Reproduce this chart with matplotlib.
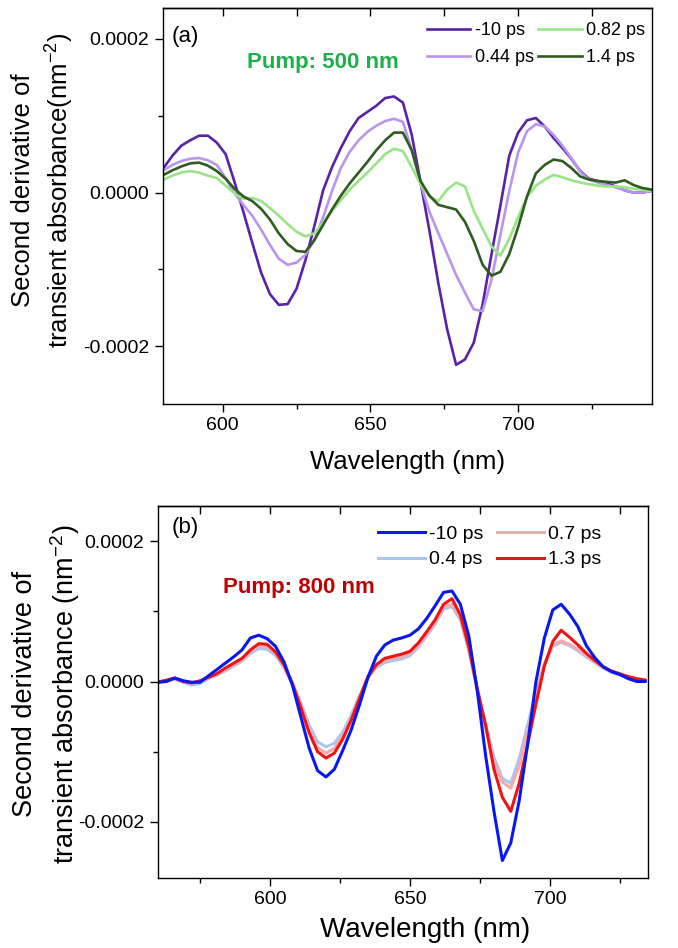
import numpy as np
import matplotlib
matplotlib.use("Agg")
import matplotlib.pyplot as plt
from matplotlib.ticker import MultipleLocator, FuncFormatter

plt.rcParams['font.family'] = ['Liberation Sans', 'DejaVu Sans']
plt.rcParams['axes.unicode_minus'] = False
plt.rcParams['mathtext.fontset'] = 'custom'
plt.rcParams['mathtext.rm'] = 'Liberation Sans'
plt.rcParams['mathtext.it'] = 'Liberation Sans'

# ---- panel (a): pump 500 nm, values in 1e-4 nm^-2 ----
wl_a = list(range(580, 746, 3))
a_m10 = [0.32, 0.48, 0.61, 0.68, 0.74, 0.74, 0.65, 0.50, 0.14, -0.25,
         -0.65, -1.04, -1.32, -1.46, -1.45, -1.25, -0.88, -0.44, 0.03, 0.33,
         0.58, 0.80, 0.97, 1.05, 1.13, 1.23, 1.25, 1.17, 0.75, 0.13,
         -0.50, -1.18, -1.78, -2.24, -2.17, -1.95, -1.45, -0.80, -0.17, 0.48,
         0.78, 0.94, 0.97, 0.86, 0.71, 0.58, 0.44, 0.28, 0.18, 0.15,
         0.12, 0.08, 0.03, 0.00, 0.00, 0.02]
a_044 = [0.29, 0.36, 0.41, 0.44, 0.45, 0.42, 0.36, 0.19, -0.01, -0.16,
         -0.30, -0.48, -0.68, -0.86, -0.94, -0.91, -0.81, -0.62, -0.32, 0.02,
         0.32, 0.53, 0.68, 0.79, 0.87, 0.93, 0.96, 0.92, 0.55, 0.11,
         -0.25, -0.53, -0.80, -1.07, -1.30, -1.52, -1.54, -1.13, -0.55, 0.02,
         0.52, 0.80, 0.89, 0.86, 0.75, 0.61, 0.45, 0.27, 0.17, 0.13,
         0.10, 0.07, 0.03, 0.00, 0.00, 0.02]
a_082 = [0.17, 0.22, 0.26, 0.28, 0.26, 0.22, 0.19, 0.09, -0.01, -0.08,
         -0.07, -0.11, -0.20, -0.30, -0.41, -0.51, -0.57, -0.53, -0.39, -0.24,
         -0.10, 0.04, 0.15, 0.26, 0.38, 0.50, 0.57, 0.54, 0.33, 0.11,
         -0.05, -0.11, 0.04, 0.13, 0.08, -0.24, -0.47, -0.70, -0.82, -0.60,
         -0.32, -0.06, 0.09, 0.17, 0.23, 0.20, 0.16, 0.13, 0.11, 0.09,
         0.08, 0.08, 0.07, 0.05, 0.04, 0.02]
a_14 = [0.23, 0.29, 0.34, 0.38, 0.39, 0.35, 0.28, 0.18, 0.05, -0.05,
        -0.11, -0.21, -0.35, -0.53, -0.67, -0.76, -0.77, -0.62, -0.42, -0.22,
        -0.04, 0.12, 0.26, 0.40, 0.55, 0.68, 0.78, 0.78, 0.55, 0.15,
        -0.04, -0.16, -0.19, -0.22, -0.38, -0.63, -0.94, -1.08, -1.03, -0.80,
        -0.45, -0.05, 0.25, 0.36, 0.43, 0.41, 0.32, 0.21, 0.17, 0.15,
        0.14, 0.13, 0.16, 0.10, 0.06, 0.04]
labels_a = ['-10 ps', '0.44 ps', '0.82 ps', '1.4 ps']
colors_a = ['#5a22a8', '#b996ee', '#98e486', '#2f5c20']

# ---- panel (b): pump 800 nm ----
wl_b = list(range(560, 735, 3))
b_m10 = [-0.01, 0.00, 0.05, 0.01, -0.01, -0.01, 0.08, 0.17, 0.26, 0.35,
         0.45, 0.62, 0.66, 0.61, 0.50, 0.28, -0.05, -0.50, -0.95, -1.27,
         -1.36, -1.25, -0.98, -0.69, -0.33, 0.06, 0.36, 0.52, 0.59, 0.62,
         0.66, 0.75, 0.90, 1.08, 1.27, 1.29, 1.10, 0.65, -0.12, -1.05,
         -1.85, -2.55, -2.30, -1.70, -0.90, 0.00, 0.62, 1.02, 1.10, 0.96,
         0.78, 0.51, 0.34, 0.21, 0.14, 0.10, 0.04, 0.00, 0.00]
b_04 = [-0.02, 0.01, 0.03, -0.01, -0.05, -0.03, 0.04, 0.09, 0.15, 0.22,
        0.29, 0.40, 0.47, 0.46, 0.37, 0.20, -0.03, -0.30, -0.62, -0.86,
        -0.93, -0.88, -0.72, -0.48, -0.20, 0.05, 0.20, 0.27, 0.30, 0.32,
        0.37, 0.49, 0.65, 0.82, 1.03, 1.07, 0.88, 0.45, -0.10, -0.60,
        -1.08, -1.38, -1.45, -1.10, -0.62, -0.15, 0.25, 0.50, 0.56, 0.51,
        0.44, 0.35, 0.27, 0.19, 0.13, 0.09, 0.05, 0.03, 0.02]
b_07 = [0.00, 0.01, 0.04, 0.01, -0.02, 0.00, 0.05, 0.10, 0.17, 0.24,
        0.31, 0.43, 0.51, 0.50, 0.40, 0.22, -0.02, -0.33, -0.68, -0.94,
        -1.02, -0.95, -0.77, -0.52, -0.22, 0.06, 0.22, 0.30, 0.33, 0.35,
        0.40, 0.52, 0.68, 0.85, 1.06, 1.10, 0.90, 0.45, -0.12, -0.65,
        -1.15, -1.43, -1.52, -1.20, -0.70, -0.20, 0.25, 0.52, 0.58, 0.53,
        0.46, 0.37, 0.28, 0.20, 0.14, 0.10, 0.06, 0.04, 0.02]
b_13 = [-0.01, 0.02, 0.05, 0.00, -0.02, 0.01, 0.06, 0.11, 0.19, 0.26,
        0.33, 0.45, 0.54, 0.53, 0.42, 0.24, -0.03, -0.37, -0.73, -1.00,
        -1.09, -1.02, -0.82, -0.55, -0.24, 0.07, 0.24, 0.33, 0.36, 0.39,
        0.43, 0.55, 0.71, 0.88, 1.10, 1.18, 0.95, 0.50, -0.10, -0.62,
        -1.25, -1.65, -1.85, -1.45, -0.90, -0.32, 0.22, 0.57, 0.73, 0.63,
        0.52, 0.40, 0.30, 0.21, 0.15, 0.11, 0.07, 0.04, 0.02]
labels_b = ['-10 ps', '0.4 ps', '0.7 ps', '1.3 ps']
colors_b = ['#0a18ee', '#aac4f4', '#f8aaaa', '#ee1414']

fig = plt.figure(figsize=(6.78, 9.48), dpi=100)
ax1 = fig.add_axes([0.2404, 0.5738, 0.7212, 0.4177])
ax2 = fig.add_axes([0.2330, 0.0738, 0.7227, 0.3924])

fmt = FuncFormatter(lambda v, p: '%.4f' % v if abs(v) > 1e-9 else '0.0000')


def style(ax, tick_size):
    for s in ax.spines.values():
        s.set_linewidth(1.0)
    ax.xaxis.set_major_locator(MultipleLocator(50))
    ax.xaxis.set_minor_locator(MultipleLocator(25))
    ax.yaxis.set_major_locator(MultipleLocator(0.0002))
    ax.yaxis.set_minor_locator(MultipleLocator(0.0001))
    ax.yaxis.set_major_formatter(fmt)
    ax.tick_params(axis='x', which='both', direction='out', bottom=True, top=False,
                   labelsize=tick_size, width=1.0)
    ax.tick_params(axis='x', which='major', length=6, pad=3)
    ax.tick_params(axis='x', which='minor', length=3.5)
    ax.tick_params(axis='y', which='both', direction='out', left=True, right=False,
                   labelsize=tick_size, width=1.0)
    ax.tick_params(axis='y', which='major', length=6, pad=4)
    ax.tick_params(axis='y', which='minor', length=3.5)
    sec = ax.secondary_xaxis('top')
    sec.xaxis.set_major_locator(MultipleLocator(25))
    sec.tick_params(direction='in', length=6, width=1.0, labeltop=False)
    sec.spines['top'].set_linewidth(1.0)


# panel (a)
lines = []
for ys, lab, c in zip([a_m10, a_044, a_082, a_14], labels_a, colors_a):
    l, = ax1.plot(wl_a, np.array(ys) * 1e-4, color=c, lw=1.9, label=lab)
    lines.append(l)
ax1.set_xlim(579.8, 745.3)
ax1.set_ylim(-0.000275, 0.00024)
style(ax1, 14)
ax1.legend(handles=lines, ncol=2, loc='upper left', bbox_to_anchor=(0.540, 0.965),
           frameon=False, fontsize=13, handlelength=2.4, handletextpad=0.25,
           columnspacing=0.25, labelspacing=0.55, borderpad=0, borderaxespad=0)
ax1.text(0.018, 0.929, '(a)', transform=ax1.transAxes, fontsize=16,
         ha='left', va='center')
ax1.text(0.171, 0.862, 'Pump: 500 nm', transform=ax1.transAxes, fontsize=16,
         fontweight='bold', color='#1cb04c', ha='left', va='center')

# panel (b)
plot_order = [1, 2, 3, 0]
series_b = [b_m10, b_04, b_07, b_13]
handles_b = [None] * 4
for i in plot_order:
    l, = ax2.plot(wl_b, np.array(series_b[i]) * 1e-4, color=colors_b[i], lw=2.2,
                  label=labels_b[i])
    handles_b[i] = l
ax2.set_xlim(560, 735)
ax2.set_ylim(-0.00028, 0.00025)
style(ax2, 14)
ax2.legend(handles=handles_b, ncol=2, loc='upper left', bbox_to_anchor=(0.449, 0.948),
           frameon=False, fontsize=14, handlelength=2.4, handletextpad=0.2,
           columnspacing=0.75, labelspacing=0.4, borderpad=0, borderaxespad=0)
ax2.text(0.028, 0.941, '(b)', transform=ax2.transAxes, fontsize=16,
         ha='left', va='center')
ax2.text(0.133, 0.780, 'Pump: 800 nm', transform=ax2.transAxes, fontsize=16,
         fontweight='bold', color='#c00000', ha='left', va='center')

# axis labels
fig.text(43.5 / 678, 1 - 190 / 948, 'Second derivative of\ntransient absorbance(nm$^{-2}$)',
         rotation=90, ha='center', va='center', multialignment='center',
         fontsize=18.5, linespacing=1.35)
fig.text(407.5 / 678, 1 - 462 / 948, 'Wavelength (nm)', ha='center', va='center',
         fontsize=18.5)
fig.text(47 / 678, 1 - 694 / 948, 'Second derivative of\ntransient absorbance (nm$^{-2}$)',
         rotation=90, ha='center', va='center', multialignment='center',
         fontsize=19.5, linespacing=1.4)
fig.text(425 / 678, 1 - 930 / 948, 'Wavelength (nm)', ha='center', va='center',
         fontsize=20)

fig.savefig('out.png', dpi=100)
